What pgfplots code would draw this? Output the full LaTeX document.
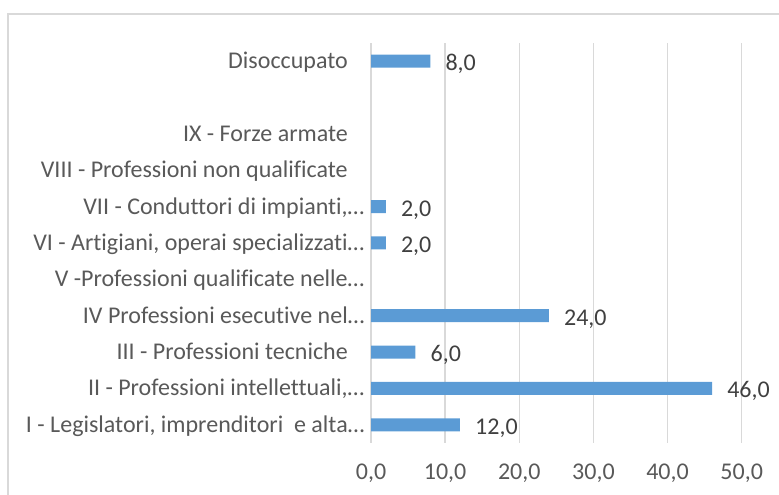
\documentclass[border=0pt]{standalone}
\usepackage{pgfplots}
\pgfplotsset{compat=1.18}
\usepackage{fontspec}
\setmainfont{Carlito}[Ligatures={NoCommon}]
\definecolor{barblue}{HTML}{5B9BD5}
\definecolor{gridgray}{HTML}{D9D9D9}
\definecolor{labgray}{HTML}{595959}
\definecolor{datagray}{HTML}{404040}
\newcommand{\lblfont}{\fontsize{24bp}{28bp}\selectfont}
\begin{document}
\lblfont
\begin{tikzpicture}[x=1bp,y=1bp]
\path[use as bounding box] (0,0) rectangle (779,495);
\draw[gridgray, line width=1.2bp] (8,0) -- (8,481) -- (779,481);
\begin{axis}[
  at={(371bp,52bp)}, anchor=south west,
  scale only axis, width=370.7bp, height=400bp,
  xmin=0, xmax=50, ymin=-0.5, ymax=10.5,
  clip=false,
  axis line style={draw=none},
  major tick length=0pt,
  xtick={0,10,20,30,40,50},
  xmajorgrids,
  grid style={gridgray, line width=1.5bp},
  ytick={0,1,2,3,4,5,6,7,8,9,10},
  yticklabels={
    {I - Legislatori, imprenditori\ \ e alta\rlap{…}},
    {II - Professioni intellettuali,\rlap{…}},
    {III - Professioni tecniche},
    {IV Professioni esecutive nel\rlap{…}},
    {V -Professioni qualificate nelle\rlap{…}},
    {VI - Artigiani, operai specializzati\rlap{…}},
    {VII - Conduttori di impianti,\rlap{…}},
    {VIII - Professioni non qualificate},
    {IX - Forze armate},
    {},
    {Disoccupato}},
  ticklabel style={font=\lblfont, text=labgray, inner sep=0pt},
  xticklabel style={anchor=north, yshift=-20.5bp},
  yticklabel style={anchor=base east, xshift=-23bp, yshift=-7.5bp},
  xbar, bar width=13bp,
  nodes near coords,
  every node near coord/.append style={font=\lblfont, text=datagray, anchor=base west, inner sep=0pt, xshift=15bp, yshift=-9.5bp},
  /pgf/number format/.cd, fixed, fixed zerofill, precision=1, use comma, assume math mode=true,
]
\addplot[fill=barblue, draw=none] coordinates {(12,0) (46,1) (6,2) (24,3) (2,5) (2,6) (8,10)};
\end{axis}
\end{tikzpicture}
\end{document}
